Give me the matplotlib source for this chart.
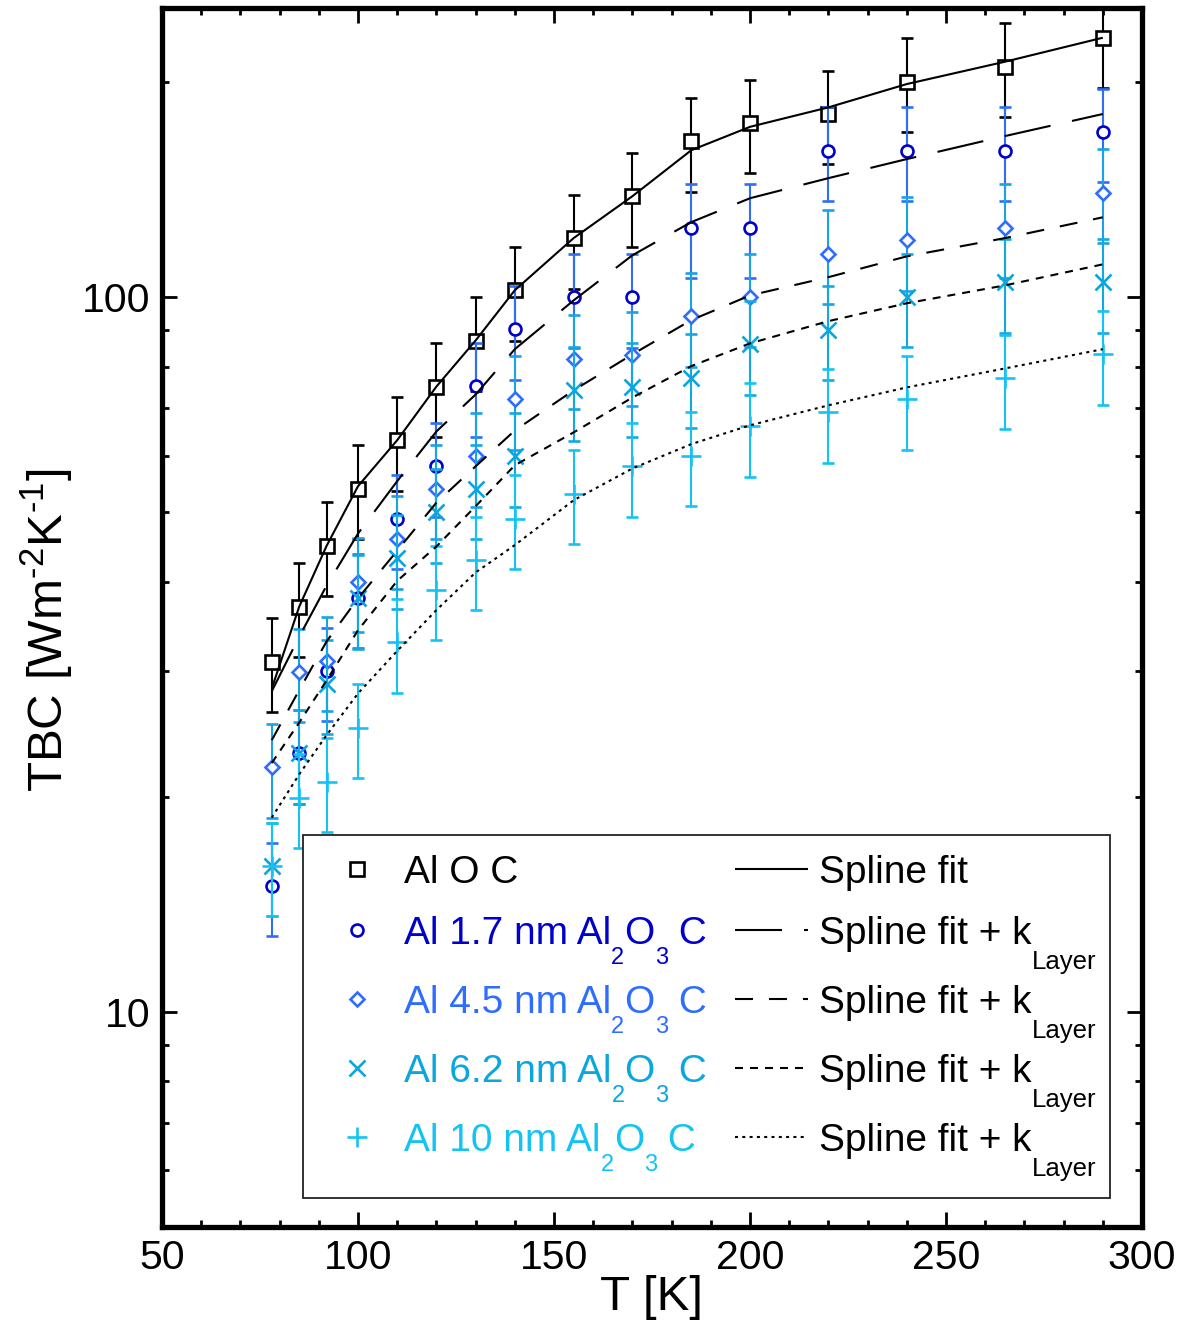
import numpy as np
import matplotlib
matplotlib.use("Agg")
import matplotlib.pyplot as plt
from matplotlib.transforms import offset_copy
from matplotlib.lines import Line2D
from matplotlib.patches import Rectangle
from matplotlib.ticker import FixedLocator, LogLocator, NullFormatter, MultipleLocator

plt.rcParams["font.family"] = ["Liberation Sans", "DejaVu Sans"]
plt.rcParams["mathtext.fontset"] = "custom"
plt.rcParams["mathtext.rm"] = "Liberation Sans"
plt.rcParams["mathtext.it"] = "Liberation Sans:italic"
plt.rcParams["mathtext.bf"] = "Liberation Sans:bold"
plt.rcParams["lines.scale_dashes"] = False

# ---------------- data ----------------
temperature = [78, 85, 92, 100, 110, 120, 130, 140, 155, 170, 185, 200, 220, 240, 265, 290]

tbc_aloc = [30.9, 36.9, 44.9, 54.0, 63.1, 75.0, 87.0, 102.3, 121.0, 138.5, 165.4, 175.4, 180.5, 200.3, 210.2, 230.8]
tbc_1p7nm = [15.0, 23.0, 30.0, 38.0, 49.0, 58.0, 75.1, 90.2, 100.0, 100.0, 125.2, 125.2, 160.3, 160.3, 160.3, 170.4]
tbc_4p5nm = [22.0, 29.9, 31.0, 40.0, 45.9, 54.0, 59.9, 72.0, 82.1, 82.9, 94.1, 100.1, 115.1, 120.2, 125.1, 140.0]
tbc_6p2nm = [16.0, 23.0, 28.8, 37.9, 43.1, 50.0, 54.0, 59.9, 74.1, 75.0, 77.2, 85.9, 90.1, 100.1, 105.0, 105.0]
tbc_10nm = [16.0, 19.95, 21.0, 25.0, 32.9, 39.0, 42.9, 49.0, 53.1, 58.0, 60.0, 66.0, 69.0, 72.0, 77.0, 83.2]

relative_error = 0.15

fit_aloc = [28.35, 36.9, 44.9, 54.4, 63.1, 75.0, 87.0, 102.3, 121.0, 138.5, 160.6, 173.2, 184.4, 198.8, 213.6, 230.8]
fit_1p7nm = [28.1, 33.5, 39.5, 46.7, 55.3, 64.9, 73.1, 84.6, 99.0, 114.5, 127.4, 137.6, 146.8, 156.1, 168.1, 180.5]
fit_4p5nm = [24.0, 28.2, 33.0, 37.9, 44.2, 51.6, 58.0, 65.1, 74.1, 83.2, 92.9, 100.6, 106.7, 114.1, 121.0, 129.4]
fit_6p2nm = [22.3, 25.4, 29.1, 34.2, 40.1, 44.8, 51.0, 58.2, 64.7, 72.4, 80.1, 86.2, 92.6, 98.1, 103.9, 111.2]
fit_10nm = [18.7, 21.5, 24.4, 27.9, 32.0, 36.5, 41.2, 45.0, 52.0, 57.6, 62.3, 66.2, 70.6, 74.8, 79.5, 84.6]

sample_labels = [
    [("Al O C", "main")],
    [("Al 1.7 nm Al", "main"), ("2", "sub"), ("O", "main"), ("3", "sub"), (" C", "main")],
    [("Al 4.5 nm Al", "main"), ("2", "sub"), ("O", "main"), ("3", "sub"), (" C", "main")],
    [("Al 6.2 nm Al", "main"), ("2", "sub"), ("O", "main"), ("3", "sub"), (" C", "main")],
    [("Al 10 nm Al", "main"), ("2", "sub"), ("O", "main"), ("3", "sub"), (" C", "main")],
]
fit_labels = [
    [("Spline fit", "main")],
    [("Spline fit + k", "main"), ("Layer", "low")],
    [("Spline fit + k", "main"), ("Layer", "low")],
    [("Spline fit + k", "main"), ("Layer", "low")],
    [("Spline fit + k", "main"), ("Layer", "low")],
]

x_ticks = [50, 100, 150, 200, 250, 300]
y_ticks = [10, 100]
y_tick_labels = ["10", "100"]

# ---------------- styles ----------------
DPI = 100
PT = 72.0 / DPI  # points per pixel

marker_styles = [
    dict(marker="s", ms=10.0, mec="#000000", ecolor="#000000"),
    dict(marker="o", ms=8.6, mec="#0000CC", ecolor="#2F6EF5"),
    dict(marker="D", ms=7.2, mec="#2E6DFF", ecolor="#19A3E6"),
    dict(marker="x", ms=11.0, mec="#0AA6DE", ecolor="#12A9E3"),
    dict(marker="+", ms=15.0, mec="#14C3F3", ecolor="#14C3F3"),
]
text_colors = ["#000000", "#0000CC", "#2E6DFF", "#0AA6DE", "#14C3F3"]

fit_dashes = [
    None,
    (47 * PT, 22 * PT),
    (18 * PT, 16 * PT),
    (8 * PT, 7 * PT),
    (3 * PT, 4.3 * PT),
]

# ---------------- figure ----------------
W, H = 1191, 1329
AX_L, AX_R, AX_T, AX_B = 162, 1142, 8, 1227
fig = plt.figure(figsize=(W / DPI, H / DPI), dpi=DPI)
ax = fig.add_axes([AX_L / W, 1 - AX_B / H, (AX_R - AX_L) / W, (AX_B - AX_T) / H])


def ax_frac(px, py):
    return (px - AX_L) / (AX_R - AX_L), (AX_B - py) / (AX_B - AX_T)


series = [tbc_aloc, tbc_1p7nm, tbc_4p5nm, tbc_6p2nm, tbc_10nm]
for i, (vals, st) in enumerate(zip(series, marker_styles)):
    v = np.asarray(vals)
    ax.errorbar(temperature, v, yerr=relative_error * v, fmt=st["marker"], ms=st["ms"],
                mfc="white", mec=st["mec"], mew=1.9, ecolor=st["ecolor"],
                elinewidth=1.5, capsize=4.4, capthick=1.5, zorder=3 + i)

fits = [fit_aloc, fit_1p7nm, fit_4p5nm, fit_6p2nm, fit_10nm]
for vals, dash in zip(fits, fit_dashes):
    line, = ax.plot(temperature, vals, color="black", lw=1.5, zorder=20,
                    solid_capstyle="butt", solid_joinstyle="round")
    if dash is not None:
        line.set_dashes(dash)

ax.set_yscale("log")
ax.set_xlim(50, 300)
ax.set_ylim(5, 254)

ax.xaxis.set_major_locator(FixedLocator(x_ticks))
ax.xaxis.set_minor_locator(MultipleLocator(10))
ax.yaxis.set_major_locator(FixedLocator(y_ticks))
ax.set_yticklabels(y_tick_labels)
ax.yaxis.set_minor_locator(LogLocator(base=10, subs=np.arange(2, 10)))
ax.yaxis.set_minor_formatter(NullFormatter())

for sp in ax.spines.values():
    sp.set_linewidth(3.8)
ax.tick_params(which="both", direction="in", top=True, right=True, width=2.0,
               labelsize=29.5, pad=8.5)
ax.tick_params(which="major", length=10.8)
ax.tick_params(which="minor", length=5.0)

ax.set_xlabel("T [K]", fontsize=35.5, va="center")
ax.xaxis.set_label_coords(0.5, ax_frac(0, 1298)[1])
ax.set_ylabel("TBC [Wm$^{\\mathregular{\u2010}2}$K$^{\\mathregular{\u2010}1}$]",
              fontsize=35.5, va="center")
ax.yaxis.set_label_coords(ax_frac(47, 0)[0], ax_frac(0, 630)[1])

# ---------------- legend ----------------
renderer = fig.canvas.get_renderer()
sizes = {"main": 28.0, "sub": 17.0, "low": 18.5}
drops = {"main": 0.0, "sub": 20.0, "low": 25.0}


def text_width(s, size):
    probe = ax.text(0, 0, s + "|", fontsize=size)
    bar = ax.text(0, 0, "|", fontsize=size)
    w = probe.get_window_extent(renderer).width - bar.get_window_extent(renderer).width
    probe.remove()
    bar.remove()
    return w


def rich_text(px, py, parts, color):
    x, y = ax_frac(px, py)
    offset = 0.0
    for s, kind in parts:
        tr = offset_copy(ax.transAxes, fig=fig, x=offset * PT, y=-drops[kind] * PT, units="points")
        ax.text(x, y, s, transform=tr, fontsize=sizes[kind], color=color,
                ha="left", va="baseline", zorder=32, clip_on=False)
        offset += text_width(s, sizes[kind])


x0, y0 = ax_frac(303, 1198)
x1, y1 = ax_frac(1110, 835)
ax.add_patch(Rectangle((x0, y0), x1 - x0, y1 - y0, transform=ax.transAxes,
                       facecolor="white", edgecolor="#222222", lw=1.3, zorder=30))

baselines = [883, 944, 1013, 1082, 1151]
for k in range(5):
    b = baselines[k]
    st = marker_styles[k]
    mx, my = ax_frac(357, b - 14)
    ax.add_line(Line2D([mx], [my], transform=ax.transAxes, marker=st["marker"],
                       ms=st["ms"], mfc="white", mec=st["mec"], mew=1.9,
                       ls="none", zorder=31, clip_on=False))
    rich_text(404, b, sample_labels[k], text_colors[k])

    lx0, ly = ax_frac(735, b - 14)
    lx1, _ = ax_frac(808, b - 14)
    ln = Line2D([lx0, lx1], [ly, ly], transform=ax.transAxes, color="black", lw=1.5,
                zorder=31, clip_on=False, solid_capstyle="butt")
    if fit_dashes[k] is not None:
        ln.set_dashes(fit_dashes[k])
    ax.add_line(ln)
    rich_text(819, b, fit_labels[k], "black")

fig.savefig("out.png", dpi=DPI)
